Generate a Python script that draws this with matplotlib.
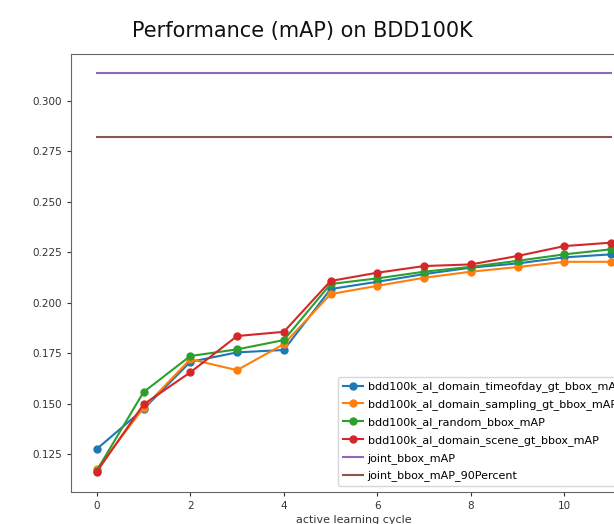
import matplotlib
matplotlib.use('Agg')
import matplotlib.pyplot as plt

cycles = list(range(12))

timeofday = [0.1275, 0.1473, 0.1707, 0.1754, 0.1766, 0.2068, 0.2104, 0.2142, 0.2174, 0.2195, 0.2225, 0.2240]
sampling = [0.1174, 0.1479, 0.1720, 0.1666, 0.1795, 0.2043, 0.2084, 0.2124, 0.2154, 0.2177, 0.2203, 0.2203]
random_ = [0.1168, 0.1557, 0.1736, 0.1769, 0.1815, 0.2093, 0.2121, 0.2154, 0.2178, 0.2208, 0.2240, 0.2265]
scene = [0.1162, 0.1496, 0.1655, 0.1835, 0.1856, 0.2108, 0.2149, 0.2182, 0.2190, 0.2232, 0.2281, 0.2298]
joint = 0.3137
joint_90 = 0.2823

labels = [
    'bdd100k_al_domain_timeofday_gt_bbox_mAP',
    'bdd100k_al_domain_sampling_gt_bbox_mAP',
    'bdd100k_al_random_bbox_mAP',
    'bdd100k_al_domain_scene_gt_bbox_mAP',
    'joint_bbox_mAP',
    'joint_bbox_mAP_90Percent',
]

fig = plt.figure(figsize=(6.14, 5.24), dpi=100)
# axes run past the right edge: the reference is a cropped screenshot
ax = fig.add_axes([71 / 614, 1 - 492 / 524, 566 / 614, 438 / 524])

for series, lab in zip([timeofday, sampling, random_, scene], labels[:4]):
    ax.plot(cycles, series, marker='o', markersize=5, linewidth=1.5, label=lab)
ax.plot([cycles[0], cycles[-1]], [joint, joint], color='tab:purple', linewidth=1.5, label=labels[4])
ax.plot([cycles[0], cycles[-1]], [joint_90, joint_90], color='tab:brown', linewidth=1.5, label=labels[5])

ax.set_xlim(-0.55, 11.55)
ax.set_ylim(0.1062, 0.3233)
ax.set_xticks([0, 2, 4, 6, 8, 10])
ax.set_yticks([0.125, 0.150, 0.175, 0.200, 0.225, 0.250, 0.275, 0.300])
ax.set_yticklabels(['%.3f' % v for v in [0.125, 0.150, 0.175, 0.200, 0.225, 0.250, 0.275, 0.300]])
ax.tick_params(labelsize=7.5, colors='#333333', length=3)
for sp in ax.spines.values():
    sp.set_color('#666666')
ax.set_xlabel('active learning cycle', fontsize=8, color='#333333', labelpad=3)
ax.legend(loc='lower right', bbox_to_anchor=(0.993, 0.0), fontsize=8, framealpha=0.8,
          labelspacing=0.62, handlelength=1.8, handletextpad=0.45, borderpad=0.45)

fig.text(302 / 614, 1 - 31 / 524, 'Performance (mAP) on BDD100K', fontsize=15,
         ha='center', va='center', color='#111111')

fig.savefig('out.png', dpi=100)
